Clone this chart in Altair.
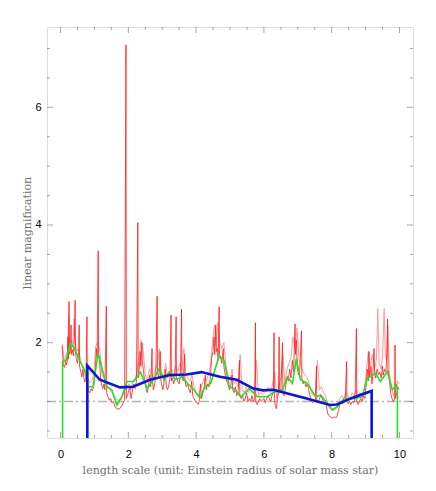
import altair as alt
import pandas as pd

# ---------------- data ----------------
red_x = [0.05, 0.08, 0.12, 0.15, 0.17, 0.20, 0.22, 0.23, 0.25, 0.26, 0.29, 0.31, 0.32, 0.35, 0.38,
         0.41, 0.43, 0.44, 0.47, 0.50, 0.53, 0.55, 0.56, 0.60, 0.63, 0.66, 0.69, 0.72, 0.75, 0.78,
         0.79, 0.82, 0.86, 0.90, 0.94, 0.97, 1.00, 1.03, 1.06, 1.08, 1.11, 1.12, 1.15, 1.18, 1.21,
         1.25, 1.28, 1.31, 1.35, 1.36, 1.40, 1.44, 1.48, 1.52, 1.56, 1.60, 1.65, 1.70, 1.75, 1.80,
         1.85, 1.89, 1.93, 1.94, 1.97, 2.00, 2.04, 2.08, 2.12, 2.16, 2.20, 2.24, 2.28, 2.29, 2.32,
         2.35, 2.37, 2.40, 2.41, 2.44, 2.47, 2.50, 2.53, 2.56, 2.60, 2.63, 2.66, 2.70, 2.71, 2.74,
         2.78, 2.81, 2.85, 2.86, 2.90, 2.94, 2.95, 2.98, 3.02, 3.06, 3.09, 3.12, 3.16, 3.20, 3.23,
         3.26, 3.27, 3.30, 3.34, 3.38, 3.41, 3.42, 3.46, 3.50, 3.54, 3.57, 3.58, 3.62, 3.66, 3.67,
         3.71, 3.75, 3.79, 3.83, 3.87, 3.90, 3.94, 3.98, 4.02, 4.06, 4.09, 4.13, 4.16, 4.20, 4.24,
         4.27, 4.30, 4.34, 4.38, 4.42, 4.46, 4.50, 4.53, 4.55, 4.58, 4.60, 4.63, 4.65, 4.68, 4.69,
         4.72, 4.76, 4.80, 4.82, 4.86, 4.90, 4.94, 4.98, 5.02, 5.06, 5.08, 5.12, 5.16, 5.20, 5.24,
         5.28, 5.29, 5.33, 5.37, 5.41, 5.45, 5.49, 5.53, 5.57, 5.61, 5.65, 5.69, 5.73, 5.75, 5.76,
         5.80, 5.84, 5.88, 5.92, 5.96, 6.00, 6.04, 6.08, 6.12, 6.16, 6.20, 6.24, 6.28, 6.30, 6.31,
         6.34, 6.37, 6.40, 6.43, 6.45, 6.46, 6.50, 6.55, 6.56, 6.60, 6.64, 6.68, 6.72, 6.76, 6.80,
         6.84, 6.88, 6.90, 6.92, 6.93, 6.96, 6.98, 7.02, 7.06, 7.11, 7.12, 7.16, 7.20, 7.24, 7.28,
         7.32, 7.36, 7.40, 7.44, 7.48, 7.52, 7.55, 7.56, 7.60, 7.64, 7.68, 7.72, 7.76, 7.80, 7.84,
         7.88, 7.92, 7.96, 8.00, 8.04, 8.08, 8.12, 8.16, 8.20, 8.24, 8.28, 8.32, 8.36, 8.40, 8.44,
         8.45, 8.49, 8.53, 8.57, 8.61, 8.65, 8.69, 8.73, 8.74, 8.78, 8.82, 8.86, 8.90, 8.94, 8.98,
         9.02, 9.05, 9.08, 9.10, 9.12, 9.16, 9.19, 9.22, 9.25, 9.27, 9.30, 9.34, 9.38, 9.42, 9.46,
         9.50, 9.52, 9.56, 9.60, 9.63, 9.65, 9.66, 9.70, 9.74, 9.78, 9.82, 9.86, 9.87, 9.88, 9.91,
         9.95, 9.99]
red_y = [1.95, 1.62, 1.58, 1.70, 1.62, 1.68, 2.10, 1.72, 2.70, 1.80, 1.85, 2.30, 1.80, 1.88, 1.78,
         2.10, 2.72, 1.85, 1.70, 1.65, 1.78, 2.30, 1.60, 1.50, 1.42, 1.55, 1.40, 1.33, 1.45, 2.44,
         1.30, 1.18, 1.15, 1.22, 1.18, 1.25, 1.35, 1.60, 1.90, 1.75, 3.56, 1.80, 1.70, 1.40, 1.28,
         1.22, 1.30, 1.20, 2.62, 1.15, 1.08, 1.02, 1.05, 0.98, 1.00, 0.92, 0.88, 0.87, 0.88, 0.92,
         0.98, 1.02, 7.06, 1.05, 1.10, 1.15, 1.25, 1.05, 1.18, 1.30, 1.22, 1.35, 4.04, 1.40, 1.55,
         1.85, 1.60, 2.00, 1.70, 1.55, 1.40, 1.30, 1.20, 1.15, 1.30, 1.45, 1.25, 1.90, 1.35, 1.20,
         1.30, 1.45, 2.79, 1.50, 1.40, 1.85, 1.40, 1.30, 1.20, 1.35, 1.55, 1.25, 1.20, 1.30, 1.40,
         2.47, 1.35, 1.40, 1.30, 1.45, 2.44, 1.40, 1.35, 1.30, 1.50, 2.57, 1.45, 1.35, 1.80, 1.35,
         1.25, 1.30, 1.20, 1.15, 1.35, 1.10, 1.05, 1.00, 0.98, 0.95, 1.00, 1.30, 1.05, 1.15, 1.25,
         1.45, 1.20, 1.30, 1.25, 1.40, 1.75, 1.85, 2.10, 1.80, 2.30, 1.85, 1.90, 1.70, 2.61, 1.80,
         1.75, 1.65, 1.90, 1.60, 1.45, 1.35, 1.30, 1.20, 1.25, 1.45, 1.20, 1.15, 1.25, 1.10, 1.15,
         1.70, 1.10, 1.05, 1.10, 1.00, 1.05, 1.15, 1.00, 1.05, 1.00, 1.10, 1.00, 1.05, 2.34, 1.00,
         0.95, 1.00, 1.05, 1.00, 1.02, 1.05, 0.98, 1.05, 1.10, 1.05, 1.00, 1.10, 1.15, 2.17, 1.05,
         0.92, 0.88, 1.05, 1.15, 2.10, 1.15, 1.20, 2.00, 1.15, 1.10, 1.25, 1.40, 1.35, 1.55, 1.40,
         1.70, 1.50, 1.95, 2.32, 1.80, 2.05, 1.60, 1.45, 1.55, 2.20, 1.40, 1.30, 1.35, 1.25, 1.30,
         1.20, 1.10, 1.00, 0.98, 1.02, 1.00, 1.60, 1.00, 0.98, 1.05, 1.10, 1.05, 1.00, 0.98, 0.95,
         0.80, 0.76, 0.74, 0.73, 0.72, 0.74, 0.72, 0.75, 0.85, 0.95, 1.00, 0.96, 0.98, 1.02, 1.68,
         1.00, 0.96, 1.00, 0.95, 1.00, 0.98, 1.05, 2.24, 1.00, 0.95, 1.00, 1.05, 1.00, 1.10, 1.05,
         1.30, 1.55, 1.35, 1.85, 1.40, 1.60, 1.30, 1.50, 1.90, 1.45, 1.40, 1.55, 1.45, 1.50, 1.40,
         1.60, 1.45, 1.55, 1.50, 1.80, 2.40, 1.55, 1.40, 1.15, 1.05, 1.00, 1.05, 1.96, 1.05, 1.10,
         1.25, 1.20]

pink_x = [0.05, 0.10, 0.15, 0.20, 0.25, 0.27, 0.32, 0.36, 0.40, 0.42, 0.48, 0.52, 0.58, 0.62, 0.68,
          0.74, 0.80, 0.85, 0.92, 0.98, 1.04, 1.10, 1.16, 1.22, 1.28, 1.34, 1.40, 1.46, 1.52, 1.58,
          1.64, 1.70, 1.76, 1.82, 1.88, 1.95, 2.02, 2.08, 2.14, 2.20, 2.26, 2.32, 2.38, 2.44, 2.50,
          2.56, 2.62, 2.68, 2.74, 2.80, 2.86, 2.92, 2.98, 3.04, 3.10, 3.16, 3.22, 3.28, 3.34, 3.40,
          3.46, 3.52, 3.58, 3.64, 3.70, 3.76, 3.82, 3.88, 3.94, 4.00, 4.06, 4.12, 4.18, 4.24, 4.30,
          4.36, 4.42, 4.48, 4.54, 4.58, 4.64, 4.70, 4.76, 4.82, 4.88, 4.94, 5.00, 5.06, 5.12, 5.18,
          5.24, 5.30, 5.36, 5.42, 5.48, 5.54, 5.60, 5.66, 5.72, 5.78, 5.84, 5.90, 5.96, 6.02, 6.08,
          6.14, 6.20, 6.26, 6.32, 6.38, 6.44, 6.50, 6.56, 6.62, 6.68, 6.74, 6.80, 6.86, 6.92, 6.98,
          7.04, 7.10, 7.16, 7.22, 7.28, 7.34, 7.40, 7.46, 7.52, 7.58, 7.64, 7.70, 7.76, 7.82, 7.88,
          7.94, 8.00, 8.06, 8.12, 8.18, 8.24, 8.30, 8.36, 8.42, 8.48, 8.54, 8.60, 8.66, 8.72, 8.78,
          8.84, 8.90, 8.96, 9.02, 9.08, 9.14, 9.20, 9.26, 9.32, 9.36, 9.40, 9.46, 9.50, 9.55, 9.58,
          9.62, 9.66, 9.70, 9.76, 9.82, 9.88, 9.94, 9.99]
pink_y = [1.98, 1.70, 1.78, 1.85, 2.45, 1.95, 2.05, 1.95, 2.40, 2.05, 1.85, 1.90, 1.75, 1.62, 1.55,
          1.50, 1.40, 1.32, 1.35, 1.45, 1.95, 2.00, 1.85, 1.45, 1.40, 1.35, 1.25, 1.20, 1.15, 1.10,
          1.05, 1.02, 1.05, 1.10, 1.15, 1.25, 1.30, 1.20, 1.35, 1.40, 1.50, 1.75, 2.05, 1.85, 1.45,
          1.35, 1.55, 1.50, 1.40, 1.55, 1.65, 1.90, 1.50, 1.40, 1.65, 1.40, 1.50, 1.55, 1.45, 1.60,
          1.50, 1.65, 1.55, 1.90, 1.45, 1.40, 1.35, 1.45, 1.25, 1.15, 1.10, 1.20, 1.30, 1.40, 1.35,
          1.45, 1.60, 2.00, 2.30, 1.95, 2.35, 2.00, 1.90, 2.00, 1.60, 1.45, 1.35, 1.55, 1.30, 1.35,
          1.25, 1.80, 1.20, 1.15, 1.25, 1.15, 1.20, 1.25, 1.15, 1.70, 1.10, 1.15, 1.12, 1.15, 1.20,
          1.25, 1.15, 1.30, 1.50, 1.05, 1.25, 1.40, 1.80, 1.30, 1.55, 1.65, 1.75, 2.10, 1.90, 2.25,
          1.70, 1.60, 1.50, 1.45, 1.40, 1.30, 1.15, 1.10, 1.15, 1.70, 1.20, 1.25, 1.15, 1.10, 0.95,
          0.88, 0.85, 0.85, 0.88, 0.95, 1.05, 1.10, 1.05, 1.15, 1.10, 1.05, 1.15, 1.10, 1.20, 1.10,
          1.15, 1.10, 1.20, 1.50, 1.85, 1.60, 1.80, 1.55, 1.70, 2.58, 1.65, 1.55, 1.75, 2.58, 1.80,
          1.70, 2.30, 1.50, 1.25, 1.10, 1.20, 1.35, 1.30]

green_x = [0.06, 0.06, 0.16, 0.29, 0.41, 0.56, 0.71, 0.81, 0.96, 1.11, 1.21, 1.36, 1.51, 1.66, 1.81,
           1.96, 2.16, 2.36, 2.56, 2.76, 2.91, 3.05, 3.20, 3.40, 3.60, 3.74, 3.94, 4.11, 4.26, 4.43,
           4.68, 4.83, 4.98, 5.12, 5.32, 5.57, 5.81, 6.10, 6.30, 6.55, 6.69, 6.84, 6.96, 7.08, 7.28,
           7.53, 7.68, 7.83, 8.02, 8.17, 8.36, 8.66, 8.90, 9.05, 9.29, 9.44, 9.64, 9.79, 9.92, 9.94,
           9.94]
green_y = [0.00, 1.68, 1.70, 1.99, 1.90, 1.70, 1.53, 1.25, 1.25, 1.82, 1.60, 1.25, 1.20, 0.94, 1.08,
           1.34, 1.34, 1.50, 1.22, 1.39, 1.56, 1.37, 1.50, 1.37, 1.42, 1.31, 1.20, 1.06, 1.25, 1.31,
           1.77, 1.70, 1.25, 1.22, 1.08, 1.22, 1.08, 1.08, 1.16, 1.20, 1.42, 1.31, 1.73, 1.37, 1.31,
           1.08, 1.11, 1.00, 0.86, 0.91, 1.05, 1.05, 1.08, 1.39, 1.48, 1.34, 1.51, 1.20, 1.28, 1.20,
           0.00]

blue_x = [0.79, 0.79, 1.16, 1.75, 2.14, 2.64, 3.23, 3.72, 4.16, 4.70, 5.20, 5.69, 5.98, 6.28, 6.67,
          7.26, 7.95, 8.15, 8.64, 9.18, 9.18]
blue_y = [0.00, 1.61, 1.37, 1.24, 1.25, 1.37, 1.45, 1.46, 1.50, 1.42, 1.37, 1.22, 1.19, 1.20, 1.14,
          1.05, 0.94, 0.95, 1.07, 1.18, 0.00]

unity_level = [1.0]

x_label_values = [0, 2, 4, 6, 8, 10]
y_label_values = [2, 4, 6]
x_tick_values = [0, 0.5, 1, 1.5, 2, 2.5, 3, 3.5, 4, 4.5, 5, 5.5, 6, 6.5, 7, 7.5, 8, 8.5, 9, 9.5, 10]
y_tick_values = [0.5, 1, 1.5, 2, 2.5, 3, 3.5, 4, 4.5, 5, 5.5, 6, 6.5, 7]

# ---------------- chart ----------------
W, H = 366, 411
FRAME = "#808080"

xs = alt.Scale(domain=[-0.4, 10.4], nice=False, zero=False)
ys = alt.Scale(domain=[0.38, 7.365], nice=False, zero=False)

x_axis = alt.Axis(values=x_label_values, format="d", ticks=False, domain=False, grid=False,
                  labelFont="Liberation Sans", labelFontSize=11, labelColor="black",
                  labelPadding=10, labelFlush=False,
                  title="length scale (unit: Einstein radius of solar mass star)",
                  titleFont="DejaVu Serif", titleFontSize=11, titleFontWeight="normal",
                  titleColor="#707070", titlePadding=5)
y_axis = alt.Axis(values=y_label_values, format="d", ticks=False, domain=False, grid=False,
                  labelFont="Liberation Sans", labelFontSize=11, labelColor="black",
                  labelPadding=6, labelFlush=False,
                  title="linear magnification",
                  titleFont="DejaVu Serif", titleFontSize=11, titleFontWeight="normal",
                  titleColor="#707070", titlePadding=2)

X = lambda f: alt.X(f, scale=xs, axis=x_axis)
Y = lambda f: alt.Y(f, scale=ys, axis=y_axis)


def series(xv, yv):
    return pd.DataFrame({"x": xv, "y": yv, "i": list(range(len(xv)))})


def line(df, color, width, opacity=1.0):
    return alt.Chart(df).mark_line(color=color, strokeWidth=width, opacity=opacity,
                                   clip=True, interpolate="linear").encode(
        x=X("x:Q"), y=Y("y:Q"), order="i:Q")


unity = alt.Chart(pd.DataFrame({"y": unity_level})).mark_rule(
    color="#b4b4b4", strokeWidth=1.5, strokeDash=[9, 3, 2, 3]).encode(y=Y("y:Q"))

pink = line(series(pink_x, pink_y), "#ff9a9a", 1.0)
red = line(series(red_x, red_y), "#ff1a1a", 0.8)
green = line(series(green_x, green_y), "#22e022", 1.6)
blue = line(series(blue_x, blue_y), "#0a14e6", 2.6)

xt = pd.DataFrame({"v": x_tick_values,
                   "len": [12 if v % 2 == 0 else 6 for v in x_tick_values]})
yt = pd.DataFrame({"v": y_tick_values,
                   "len": [12 if v % 2 == 0 else 6 for v in y_tick_values]})

tick_bottom = alt.Chart(xt).mark_tick(color=FRAME, thickness=1, clip=True, orient="vertical").encode(
    x=X("v:Q"), y=alt.value(H), size=alt.Size("len:Q", scale=None))
tick_top = alt.Chart(xt).mark_tick(color=FRAME, thickness=1, clip=True, orient="vertical").encode(
    x=X("v:Q"), y=alt.value(0), size=alt.Size("len:Q", scale=None))
tick_left = alt.Chart(yt).mark_tick(color=FRAME, thickness=1, clip=True, orient="horizontal").encode(
    y=Y("v:Q"), x=alt.value(0), size=alt.Size("len:Q", scale=None))
tick_right = alt.Chart(yt).mark_tick(color=FRAME, thickness=1, clip=True, orient="horizontal").encode(
    y=Y("v:Q"), x=alt.value(W), size=alt.Size("len:Q", scale=None))

chart = alt.layer(
    unity, pink, red, green, blue, tick_bottom, tick_top, tick_left, tick_right
).properties(
    width=W, height=H,
    autosize=alt.AutoSizeParams(type="none"),
    padding={"left": 39, "top": 19, "right": 15, "bottom": 45},
).configure_view(
    stroke=FRAME, strokeWidth=1
).configure(background="white")

chart.save("out.html", embed_options={"renderer": "svg", "actions": False})
